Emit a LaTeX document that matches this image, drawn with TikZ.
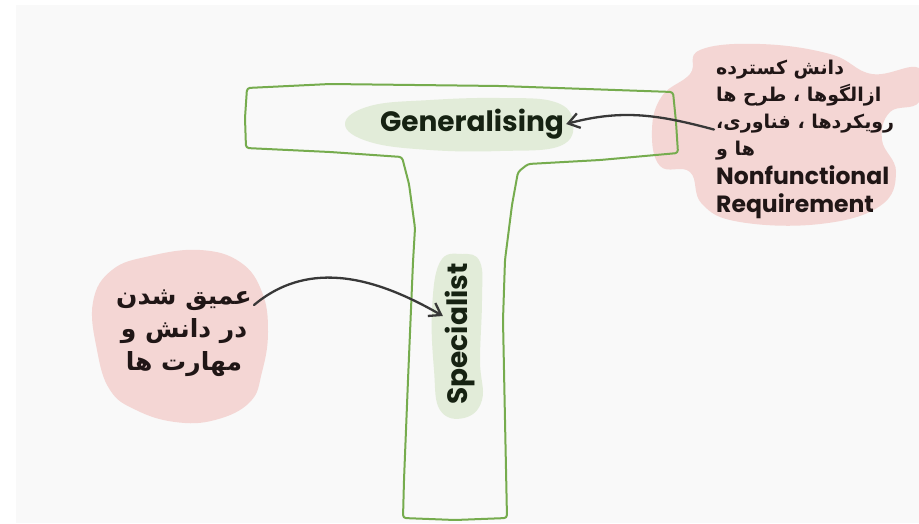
\documentclass[tikz,border=0pt]{standalone}
\usepackage{fontspec}
\setmainfont{Poppins}
\newfontfamily\farsi[Script=Arabic]{DejaVu Sans}
\TeXXeTstate=1
\usetikzlibrary{arrows.meta}

\definecolor{bggray}{RGB}{249,249,249}
\definecolor{tgreen}{RGB}{118,172,78}
\definecolor{hlgreen}{RGB}{226,236,217}
\definecolor{notepink}{RGB}{244,214,212}
\definecolor{ink}{RGB}{32,22,22}
\definecolor{leafink}{RGB}{22,34,18}
\definecolor{arrowgray}{RGB}{56,56,56}

\newcommand{\latinline}[1]{{\rmfamily\bfseries\fontsize{23.5}{27}\selectfont #1}}

\begin{document}
\begin{tikzpicture}[
    x=1pt,y=-1pt,
    outline/.style={draw=tgreen,line width=2pt,line join=round,rounded corners=3pt},
    greenblob/.style={fill=hlgreen},
    pinkblob/.style={fill=notepink},
    word/.style={font=\bfseries\fontsize{28}{32}\selectfont,text=leafink,inner sep=2pt},
    note/.style={font=\farsi\bfseries\fontsize{19}{27}\selectfont,text=ink,inner sep=2pt},
    arr/.style={draw=arrowgray,line width=2.3pt,line cap=round,
      -{Straight Barb[length=11pt,width=15pt,line width=2.3pt]}}
  ]

  \useasboundingbox (0,0) rectangle (919,523);
  \fill[bggray] (16,5) rectangle (919,523);

  \fill[pinkblob] plot[smooth cycle,tension=0.7] coordinates {
    (700,50) (760,44) (830,54) (872,74) (919,68) (919,102) (890,112)
    (882,140) (896,172) (880,206) (820,224) (740,222) (702,204)
    (690,172) (660,166) (652,130) (662,96) (690,74)};
  \fill[pinkblob] plot[smooth cycle,tension=0.7] coordinates {
    (150,256) (200,250) (240,262) (262,292) (268,332) (262,372)
    (250,402) (215,420) (175,422) (136,410) (110,390) (97,350)
    (93,302) (112,270)};

  \draw[outline] (247,88) -- (330,84) -- (500,86) -- (673,92) -- (676,122)
    -- (678,153) -- (600,160) -- (528,164) -- (518,172) -- (512,205)
    -- (505,260) -- (503,320) -- (505,420) -- (507,518) -- (455,520)
    -- (403,518) -- (404,480) -- (408,380) -- (413,262) -- (415,228)
    -- (409,184) -- (402,157) -- (330,152) -- (246,148) -- (245,118) -- cycle;

  \fill[greenblob] plot[smooth cycle,tension=0.7] coordinates {
    (345,124) (370,106) (430,100) (500,98) (555,102) (573,122)
    (560,146) (500,151) (430,150) (370,142)};
  \fill[greenblob] plot[smooth cycle,tension=0.7] coordinates {
    (440,262) (462,254) (480,262) (482,300) (480,360) (482,400)
    (464,418) (440,410) (434,370) (432,310)};

  \node (gen) [word] at (472,124) {Generalising};
  \node (spec) [word,rotate=90] at (460,334) {Specialist};

  \node (wide) [note,align=left,anchor=north west] at (714,58)
    {\beginR دانش کسترده\endR\\
     \beginR ازالگوها ، طرح ها\endR\\
     \beginR رویکردها ، فناوری،\endR\\
     \beginR ها و\endR\\[2pt]
     \latinline{Nonfunctional}\\[1pt]
     \latinline{Requirement}};
  \node (deep) [note,align=center,font=\farsi\bfseries\fontsize{25}{33}\selectfont]
    at (184,333)
    {\beginR عمیق شدن\endR\\
     \beginR در دانش و\endR\\
     \beginR مهارت ها\endR};

  \draw[arr] ([yshift=10pt]wide.west) to[out=165,in=15] (gen.east);
  \draw[arr] ([yshift=28pt]deep.east) to[out=40,in=150] ([yshift=18pt]spec.north);

\end{tikzpicture}
\end{document}
